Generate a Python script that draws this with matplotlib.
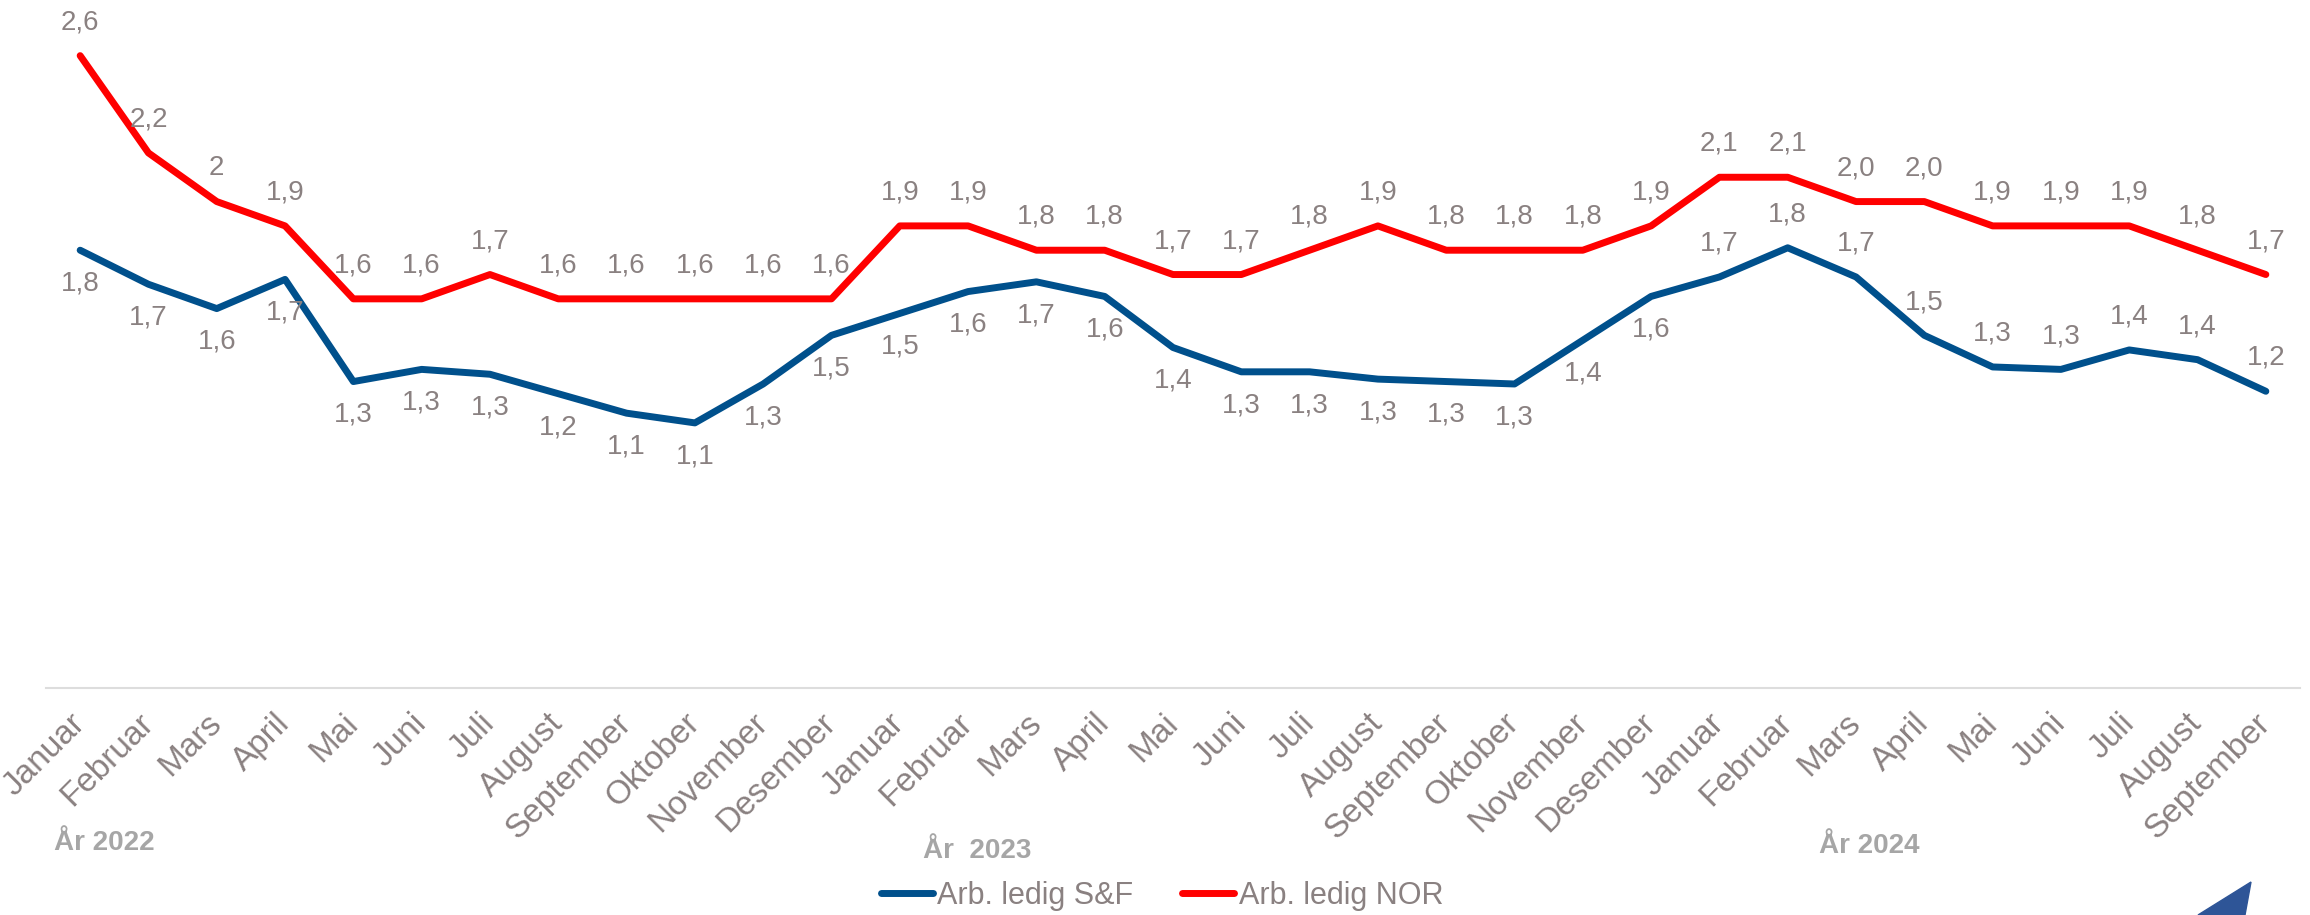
import matplotlib.pyplot as plt
from matplotlib.patches import Polygon

plt.rcParams['font.family'] = ['Liberation Sans', 'DejaVu Sans']

months = ["Januar", "Februar", "Mars", "April", "Mai", "Juni", "Juli", "August",
          "September", "Oktober", "November", "Desember"]
tick_labels = months * 2 + months[:9]
years = ["År 2022", "År  2023", "År 2024"]

# arbeidsledige i prosent, jan 2022 - sep 2024
sf_values = [1.80, 1.66, 1.56, 1.68, 1.26, 1.31, 1.29, 1.21, 1.13, 1.09, 1.25, 1.45,
             1.54, 1.63, 1.67, 1.61, 1.40, 1.30, 1.30, 1.27, 1.26, 1.25, 1.43, 1.61,
             1.69, 1.81, 1.69, 1.45, 1.32, 1.31, 1.39, 1.35, 1.22]
nor_values = [2.6, 2.2, 2.0, 1.9, 1.6, 1.6, 1.7, 1.6, 1.6, 1.6, 1.6, 1.6,
              1.9, 1.9, 1.8, 1.8, 1.7, 1.7, 1.8, 1.9, 1.8, 1.8, 1.8, 1.9,
              2.1, 2.1, 2.0, 2.0, 1.9, 1.9, 1.9, 1.8, 1.7]
nor_no_decimal = {2}   # punkt der etiketten står uten desimal

SF_COLOR = '#00508C'
NOR_COLOR = '#FF0000'
TEXT_COLOR = '#8A8181'


def fmt(v, short=False):
    r = int(v * 10 + 0.5 + 1e-9) / 10
    if short and r == int(r):
        return str(int(r))
    return f"{r:.1f}".replace('.', ',')


fig = plt.figure(figsize=(23.1, 9.15), dpi=100)
ax = fig.add_axes([46 / 2310, 1 - 688 / 915, (2300 - 46) / 2310, (688 - 7) / 915])

x = list(range(len(tick_labels)))
ax.plot(x, sf_values, color=SF_COLOR, lw=5, solid_capstyle='round',
        solid_joinstyle='round', label='Arb. ledig S&F')
ax.plot(x, nor_values, color=NOR_COLOR, lw=5, solid_capstyle='round',
        solid_joinstyle='round', label='Arb. ledig NOR')

for i, v in enumerate(sf_values):
    dy = -24 if i < 24 else 24
    ax.annotate(fmt(v), (i, v), xytext=(0, dy), textcoords='offset points',
                ha='center', va='center', fontsize=20, color=TEXT_COLOR)
for i, v in enumerate(nor_values):
    ax.annotate(fmt(v, i in nor_no_decimal), (i, v), xytext=(0, 24),
                textcoords='offset points', ha='center', va='center',
                fontsize=20, color=TEXT_COLOR)

ax.set_xlim(-0.5, len(x) - 0.5)
ax.set_ylim(0, 2.8)
ax.set_yticks([])
ax.set_xticks(x)
ax.set_xticklabels(tick_labels, rotation=45, ha='right', va='center',
                   rotation_mode='anchor', fontsize=24, color=TEXT_COLOR)
ax.tick_params(axis='x', length=0, pad=22)
for s in ['top', 'left', 'right']:
    ax.spines[s].set_visible(False)
ax.spines['bottom'].set_color('#DDDDDD')
ax.spines['bottom'].set_linewidth(1.5)

# årstall under månedene
year_pos = [(54 / 2310, 1 - 843 / 915, 'left'),
            (977 / 2310, 1 - 851 / 915, 'center'),
            (1869 / 2310, 1 - 846 / 915, 'center')]
for label, (px, py, ha) in zip(years, year_pos):
    fig.text(px, py, label, ha=ha, va='center', fontsize=20, fontweight='bold',
             color='#A6A6A6', family=['Liberation Sans Narrow', 'Liberation Sans'])

fig.legend(loc='center', bbox_to_anchor=(0.503, 0.021), ncol=2, frameon=False,
           fontsize=22, labelcolor=TEXT_COLOR, handlelength=1.7,
           handletextpad=0.15, columnspacing=1.6)

# hjørnet av logoen nede til høyre
logo = Polygon([(2198 / 2310, 0), (2251 / 2310, 1 - 882 / 915), (2245 / 2310, 0)],
               closed=True, transform=fig.transFigure, color='#2E5597', clip_on=False)
fig.patches.append(logo)

fig.savefig('out.png', dpi=100)
